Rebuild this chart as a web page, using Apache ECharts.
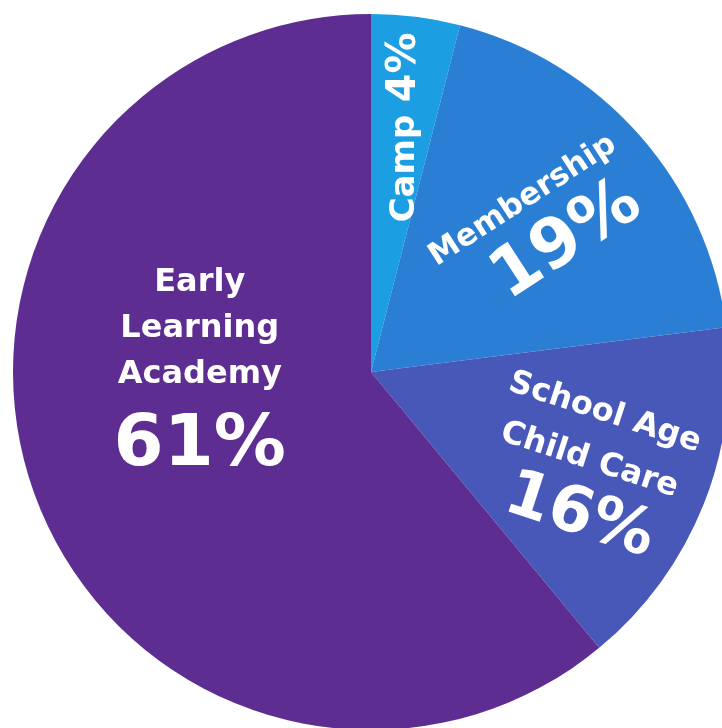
<!DOCTYPE html>
<html>
<head>
<meta charset="utf-8">
<script src="https://cdn.jsdelivr.net/npm/echarts@6/dist/echarts.min.js"></script>
<style>html,body{margin:0;padding:0;background:#fff}#c{width:722px;height:728px}</style>
</head>
<body>
<div id="c"></div>
<script>
// Data
const categories = ['Camp', 'Membership', 'School Age\nChild Care', 'Early\nLearning\nAcademy'];
const values = [4, 19, 16, 61];
const valueLabels = ['4%', '19%', '16%', '61%'];

// Styles (not data)
const colors = ['#1b9fe2', '#2a7fd5', '#4858b9', '#5e2d91'];
const labelRotate = [90, 33, -18, 0];
// screen-space shift of each label from its default inside position
const labelShift = [[11, -64], [36, -19], [47, 28], [0, -56]];
const nameSize = [34, 31, 32, 32];
const nameLine = [40, 40, 50, 46];
const valueSize = [41, 68, 64, 72];
const valueLine = [40, 76, 64, 98];
const valuePadLeft = [0, 30, 16, 0];
const inline = [true, false, false, false];

const chart = echarts.init(document.getElementById('c'), null, {renderer: 'canvas'});
const FONT = '"DejaVu Sans", sans-serif';

const data = categories.map((name, i) => {
  const rich = {
    n: {fontFamily: FONT, fontWeight: 'bold', fontSize: nameSize[i], color: '#fff', lineHeight: nameLine[i], align: 'center'},
    v: {fontFamily: FONT, fontWeight: 'bold', fontSize: valueSize[i], color: '#fff', lineHeight: valueLine[i], align: 'center',
        padding: [0, 0, 0, valuePadLeft[i]]}
  };
  let fmt;
  if (inline[i]) {
    fmt = '{n|' + name + '}   {v|' + valueLabels[i] + '}';
  } else {
    fmt = name.split('\n').map(s => '{n|' + s + '}').join('\n') + '\n{v|' + valueLabels[i] + '}';
  }
  return {
    name: name,
    value: values[i],
    itemStyle: {color: colors[i]},
    label: {formatter: fmt, rotate: labelRotate[i], rich: rich}
  };
});

chart.setOption({
  animation: false,
  series: [{
    type: 'pie',
    center: [371, 372],
    radius: 358,
    startAngle: 90,
    clockwise: true,
    avoidLabelOverlap: false,
    itemStyle: {borderWidth: 0},
    label: {show: true, position: 'inside', color: '#fff', fontFamily: FONT, fontWeight: 'bold'},
    labelLine: {show: false},
    emphasis: {disabled: true},
    labelLayout: function (p) {
      const s = labelShift[p.dataIndex];
      const a = labelRotate[p.dataIndex] * Math.PI / 180;
      // dx/dy are applied in the label's rotated frame; convert from screen space
      const lx = s[0] * Math.cos(a) - s[1] * Math.sin(a);
      const ly = s[0] * Math.sin(a) + s[1] * Math.cos(a);
      return {dx: lx, dy: ly};
    },
    data: data
  }]
});
</script>
</body>
</html>
